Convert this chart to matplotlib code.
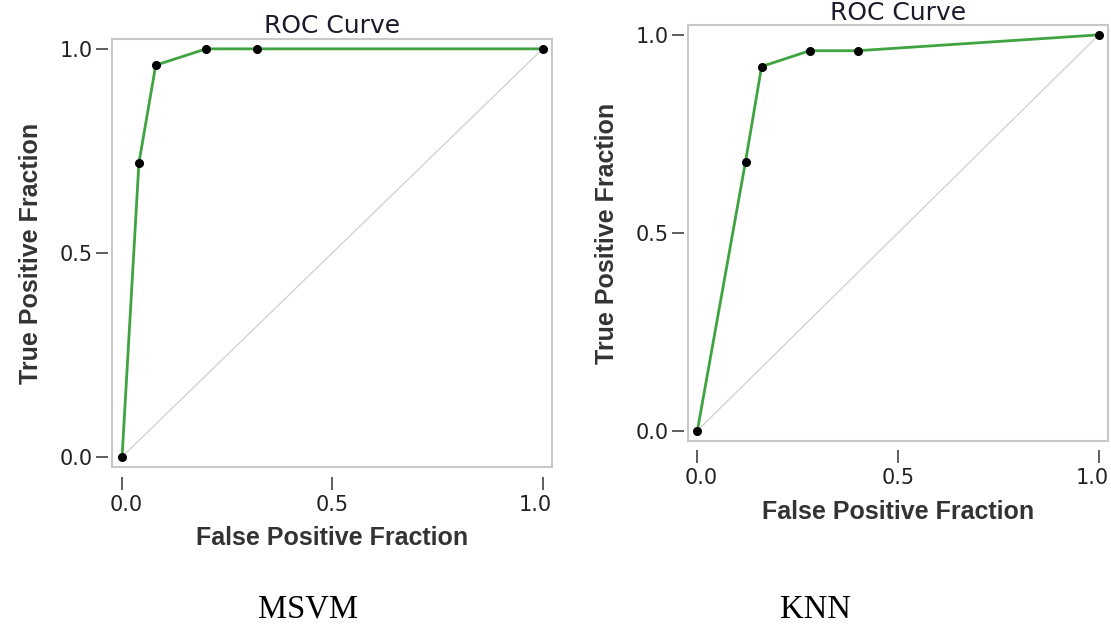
import numpy as np
import matplotlib
matplotlib.use("Agg")
import matplotlib.pyplot as plt
import matplotlib.transforms as mtransforms
from matplotlib.patches import Rectangle

# ROC points
msvm_fpr = [0.0, 0.04, 0.08, 0.20, 0.32, 1.0]
msvm_tpr = [0.0, 0.72, 0.96, 1.00, 1.00, 1.0]
knn_fpr = [0.0, 0.12, 0.16, 0.28, 0.40, 1.0]
knn_tpr = [0.0, 0.68, 0.92, 0.96, 0.96, 1.0]
ticks = [0.0, 0.5, 1.0]
tick_labels = ["0.0", "0.5", "1.0"]
names = ["MSVM", "KNN"]

fig = plt.figure(figsize=(11.11, 6.34), dpi=100)

axes_rects = [[0.1008, 0.2634, 0.396, 0.675],
              [0.619, 0.305, 0.378, 0.655]]
label_pos = [(0.277, 0.026), (0.734, 0.026)]
curves = [(msvm_fpr, msvm_tpr), (knn_fpr, knn_tpr)]

# small nudges of the x tick labels, in pixels (as in the reference)
nudges = [4, 0, -7]

for rect, (fpr, tpr), name, (tx, ty) in zip(axes_rects, curves, names, label_pos):
    ax = fig.add_axes(rect)
    # chance diagonal
    ax.plot([0, 1], [0, 1], color="#cfcfcf", lw=0.9, zorder=1)
    ax.plot(fpr, tpr, color="#3fa43f", lw=2, zorder=2)
    ax.plot(fpr, tpr, "o", color="black", ms=5.5, zorder=3, clip_on=False)

    ax.set_xlim(-0.024, 1.022)
    ax.set_ylim(-0.025, 1.024)

    # detached tick axes, frame drawn separately
    ax.spines["bottom"].set_position(("outward", 7))
    ax.spines["left"].set_position(("outward", 3))
    for s in ax.spines.values():
        s.set_visible(False)
    ax.add_patch(Rectangle((0, 0), 1, 1, transform=ax.transAxes, fill=False,
                           edgecolor="#c8c8c8", lw=1.5, clip_on=False, zorder=0))

    ax.set_xticks(ticks)
    ax.set_xticklabels(tick_labels)
    ax.set_yticks(ticks)
    ax.set_yticklabels(tick_labels)
    ax.tick_params(axis="both", length=9, width=1.1, color="#333333",
                   labelsize=15, labelcolor="#222222")
    ax.tick_params(axis="x", pad=4)
    ax.tick_params(axis="y", pad=1.5)

    for lab, dx in zip(ax.get_xticklabels(), nudges):
        off = mtransforms.ScaledTranslation(dx / 100, 0, fig.dpi_scale_trans)
        lab.set_transform(lab.get_transform() + off)

    ax.set_title("ROC Curve", fontsize=18, color="#1a1a2a", pad=4,
                 family="DejaVu Sans")
    ax.set_xlabel("False Positive Fraction", fontsize=18, fontweight="bold",
                  color="#333333", family="Liberation Sans", labelpad=8)
    ax.set_ylabel("True Positive Fraction", fontsize=18, fontweight="bold",
                  color="#333333", family="Liberation Sans", labelpad=12)

    fig.text(tx, ty, name, ha="center", va="baseline", fontsize=23.5,
             family="Liberation Serif", color="black")

fig.savefig("out.png", dpi=100)
